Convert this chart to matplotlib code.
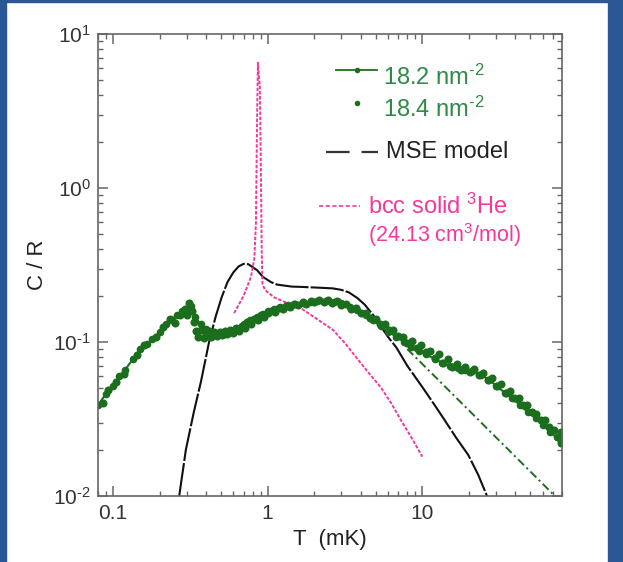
import matplotlib
matplotlib.use('Agg')
from matplotlib import pyplot as plt
from matplotlib import ticker
from matplotlib.lines import Line2D
from matplotlib.patches import Rectangle
import math

plt.rcParams['font.family'] = ['Liberation Sans', 'DejaVu Sans']
plt.rcParams['mathtext.fontset'] = 'custom'
plt.rcParams['mathtext.rm'] = 'Liberation Sans'
plt.rcParams['mathtext.default'] = 'regular'
plt.rcParams['lines.scale_dashes'] = False

HY = '\u2010'  # plain hyphen for exponents

# 18.2 nm^-2 (line + markers)
t_182 = [0.080, 0.09, 0.10, 0.11, 0.12, 0.135, 0.15, 0.165, 0.18, 0.20, 0.22, 0.24,
         0.26, 0.28, 0.30, 0.32, 0.34, 0.37, 0.40, 0.44, 0.48, 0.53, 0.58, 0.64,
         0.70, 0.77, 0.85, 0.93, 1.0, 1.1, 1.2, 1.35, 1.5, 1.7, 1.9, 2.1, 2.4,
         2.7, 3.0, 3.4, 3.8, 4.3, 4.8, 5.4, 6.0, 6.8, 7.6, 8.5, 9.5, 10.5, 12,
         13.5, 15, 17, 19, 21, 24, 27, 30, 34, 38, 43, 48, 54, 60, 67, 74, 79]
c_182 = [0.039, 0.046, 0.052, 0.060, 0.066, 0.078, 0.090, 0.097, 0.104, 0.116, 0.130, 0.140,
         0.150, 0.158, 0.165, 0.172, 0.145, 0.130, 0.122, 0.114, 0.112, 0.113, 0.116, 0.122,
         0.130, 0.138, 0.146, 0.153, 0.158, 0.164, 0.168, 0.173, 0.176, 0.180, 0.183, 0.184, 0.184,
         0.182, 0.179, 0.170, 0.161, 0.149, 0.138, 0.127, 0.117, 0.108, 0.100, 0.093, 0.087, 0.083, 0.078,
         0.073, 0.070, 0.068, 0.066, 0.065, 0.061, 0.057, 0.052, 0.047, 0.043, 0.039, 0.035, 0.032, 0.029, 0.026, 0.024, 0.023]

# 18.4 nm^-2 (points only)
t_184 = [0.086, 0.093, 0.105, 0.118, 0.142, 0.158, 0.19, 0.21, 0.235, 0.25, 0.27, 0.29,
         0.30, 0.31, 0.325, 0.335, 0.345, 0.355, 0.37, 0.385, 0.40, 0.415, 0.43, 0.45,
         0.47, 0.49, 0.51, 0.53, 0.55, 0.57, 0.60, 0.62, 0.65, 0.68, 0.71, 0.74, 0.78,
         0.82, 0.86, 0.90, 0.95, 1.0, 1.05, 1.12, 1.18, 1.25, 1.32, 1.4, 1.48, 1.58,
         1.68, 1.78, 1.9, 2.0, 2.15, 2.3, 2.45, 2.6, 2.8, 3.0, 3.2, 3.45, 3.7, 4.0,
         4.3, 4.6, 5.0, 5.3, 5.7, 6.1, 6.5, 7.0, 7.5, 8.0, 8.6, 9.2, 9.8, 10.5, 11.2,
         12.0, 12.8, 13.7, 14.6, 15.6, 16.7, 17.8, 19.0, 20.3, 21.7, 23.2, 24.8, 26.5,
         28.3, 30.2, 32.3, 34.5, 36.8, 39.3, 42.0, 44.8, 47.8, 51.0, 54.5, 58.2, 62.1,
         66.3, 70.8, 75.5, 78.5, 79.2]
c_184 = [0.040, 0.049, 0.055, 0.062, 0.082, 0.095, 0.108, 0.125, 0.142, 0.132, 0.150, 0.163,
         0.150, 0.178, 0.160, 0.135, 0.118, 0.108, 0.120, 0.106, 0.112, 0.118, 0.108, 0.117,
         0.110, 0.116, 0.111, 0.118, 0.112, 0.120, 0.114, 0.123, 0.118, 0.128, 0.124, 0.134, 0.130,
         0.142, 0.138, 0.150, 0.146, 0.155, 0.160, 0.157, 0.166, 0.163, 0.171, 0.168, 0.176, 0.173,
         0.181, 0.176, 0.186, 0.181, 0.188, 0.182, 0.187, 0.180, 0.184, 0.174, 0.177, 0.165, 0.166, 0.154,
         0.155, 0.143, 0.141, 0.131, 0.130, 0.119, 0.120, 0.110, 0.108, 0.099, 0.101, 0.092, 0.095, 0.086, 0.088,
         0.079, 0.084, 0.073, 0.077, 0.069, 0.072, 0.066, 0.069, 0.064, 0.067, 0.061, 0.063, 0.057,
         0.058, 0.052, 0.053, 0.047, 0.048, 0.043, 0.043, 0.039, 0.039, 0.035, 0.034, 0.031, 0.031,
         0.028, 0.027, 0.024, 0.026, 0.022]

# high-T tail, C ~ 1/T
t_tail = [8.0, 72.0]
c_tail = [0.090, 0.010]

# MSE model
t_mse = [0.268, 0.296, 0.333, 0.37, 0.418, 0.46, 0.504, 0.55, 0.601, 0.65, 0.70, 0.75,
         0.857, 0.93, 1.05, 1.15, 1.43, 1.64, 2.0, 2.64, 3.0, 3.35, 3.8, 4.24, 4.8,
         5.37, 6.0, 6.8, 8.0, 10, 12, 13.8, 16.5, 19.8, 23, 26.2]
c_mse = [0.0100, 0.020, 0.035, 0.055, 0.100, 0.145, 0.195, 0.245, 0.284, 0.310, 0.322, 0.320,
         0.292, 0.265, 0.245, 0.236, 0.229, 0.228, 0.226, 0.223, 0.218, 0.210, 0.193, 0.175, 0.150,
         0.127, 0.108, 0.092, 0.070, 0.051, 0.039, 0.0316, 0.024, 0.0185, 0.0137, 0.010]

# bcc solid 3He, 24.13 cm3/mol
t_bcc = [0.607, 0.70, 0.78, 0.82, 0.84, 0.855, 0.865, 0.875, 0.89, 0.905, 0.915, 0.925,
         0.96, 1.1, 1.43, 1.64, 2.0, 2.64, 3.2, 3.77, 4.5, 5.37, 6.3, 7.2, 8.5, 10.0]
c_bcc = [0.154, 0.200, 0.265, 0.35, 0.60, 3.0, 6.5, 5.5, 4.6, 1.2, 0.40, 0.240,
         0.218, 0.195, 0.174, 0.166, 0.145, 0.120, 0.097, 0.0785, 0.063, 0.051, 0.040, 0.0316, 0.024, 0.018]

green = '#1c6e1f'
pink = '#f2399c'

fig = plt.figure(figsize=(6.23, 5.62), dpi=100)
ax = fig.add_axes([0.1573, 0.1174, 0.7448, 0.8221])

ax.plot(t_mse, c_mse, color='#111111', lw=1.5, dashes=(24, 1.5))
ax.plot(t_bcc, c_bcc, color=pink, lw=1.4, dashes=(2.5, 1.2))
ax.plot(t_tail, c_tail, color=green, lw=1.4, dashes=(6, 2.5, 1.5, 2.5))
ax.plot(t_182, c_182, color=green, lw=1.5, marker='o', ms=5.5, mew=0)
ax.plot(t_184, c_184, ls='none', color=green, marker='o', ms=5.8, mew=0)

ax.set_xscale('log')
ax.set_yscale('log')
ax.set_xlim(0.08, 80)
ax.set_ylim(0.01, 10)


def decade(v, pos):
    e = int(round(math.log10(v)))
    s = str(e).replace('-', HY)
    return '10$^{%s}$' % s


ax.xaxis.set_major_formatter(ticker.FuncFormatter(lambda v, p: '%g' % v))
ax.yaxis.set_major_formatter(ticker.FuncFormatter(decade))
ax.tick_params(which='both', direction='in', top=True, right=True,
               color='#666666', labelcolor='#333333', labelsize=15)
ax.tick_params(which='major', length=7, width=1.1)
ax.tick_params(which='minor', length=3.8, width=1.0)
ax.tick_params(axis='x', pad=6)
ax.tick_params(axis='y', pad=5)
for s in ax.spines.values():
    s.set_color('#666666')
    s.set_linewidth(1.2)

ax.set_xlabel('T  (mK)', fontsize=16, color='#222222', labelpad=4)
ax.set_ylabel('C / R', fontsize=16, color='#222222', labelpad=4)

# legend drawn by hand
tr = ax.transAxes
ax.add_line(Line2D([0.513, 0.601], [0.922, 0.922], transform=tr, color=green, lw=1.3))
ax.add_line(Line2D([0.558], [0.922], transform=tr, color=green, marker='o', ms=4, mew=0))
ax.text(0.614, 0.907, '18.2 nm$^{%s2}$' % HY, transform=tr, fontsize=17, color='#2f8a45', va='center')
ax.add_line(Line2D([0.558], [0.851], transform=tr, color=green, marker='o', ms=4, mew=0))
ax.text(0.614, 0.838, '18.4 nm$^{%s2}$' % HY, transform=tr, fontsize=17, color='#2f8a45', va='center')
ax.add_line(Line2D([0.491, 0.603], [0.745, 0.745], transform=tr, color='#333333', lw=1.6,
                   dashes=(17, 8.6)))
ax.text(0.621, 0.745, 'MSE model', transform=tr, fontsize=17, color='#222222', va='center')
ax.add_line(Line2D([0.476, 0.565], [0.628, 0.628], transform=tr, color=pink, lw=1.2,
                   dashes=(3, 1.8)))
ax.text(0.582, 0.626, r'bcc solid $^{3}$He', transform=tr, fontsize=17, color=pink, va='center')
ax.text(0.582, 0.565, r'(24.13 cm$^{3}$/mol)', transform=tr, fontsize=15.5, color=pink, va='center')

# slide frame
blue = '#2b5797'
fig.patches.append(Rectangle((0, 0), 6 / 623, 1, transform=fig.transFigure, color=blue, zorder=-1))
fig.patches.append(Rectangle((0, 1 - 2 / 562), 1, 2 / 562, transform=fig.transFigure, color=blue, zorder=-1))
fig.patches.append(Rectangle((608 / 623, 0), 15 / 623, 1, transform=fig.transFigure, color=blue, zorder=-1))

fig.savefig('out.png', dpi=100)
